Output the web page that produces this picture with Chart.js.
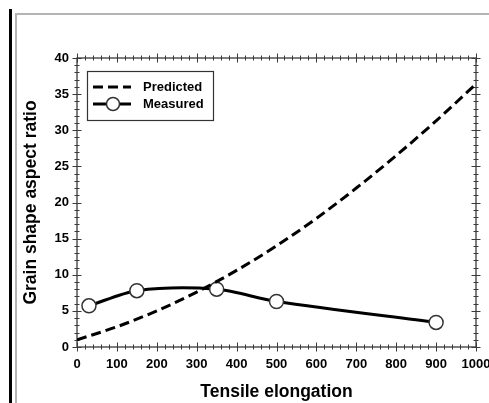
<!DOCTYPE html>
<html><head><meta charset="utf-8">
<script src="https://cdn.jsdelivr.net/npm/chart.js@4.4.0/dist/chart.umd.min.js"></script>
<style>html,body{margin:0;padding:0;background:#fff;}#wrap{width:489px;height:403px;position:relative}</style>
</head><body><div id="wrap"><canvas id="c" width="489" height="403"></canvas></div>
<script>
// ---- data ----
const predictedX = [0, 100, 200, 300, 400, 500, 600, 700, 800, 900, 1000];
const predictedY = [1.0, 2.8, 5.0, 7.6, 10.6, 14.0, 17.8, 22.0, 26.5, 31.3, 36.4];
const measuredX = [30, 150, 350, 500, 900];
const measuredY = [5.7, 7.8, 8.0, 6.3, 3.4];
const seriesLabels = ['Predicted', 'Measured'];
const xTitle = 'Tensile elongation';
const yTitle = 'Grain shape aspect ratio';
const xRange = [0, 1000], xMajor = 100, xMinor = 20;
const yRange = [0, 40], yMajor = 5, yMinor = 1;

const FONT = "'Liberation Sans', Arial, sans-serif";

const pageFrame = {
  id: 'pageFrame',
  beforeDraw(chart) {
    const ctx = chart.ctx;
    ctx.save();
    ctx.fillStyle = '#fff';
    ctx.fillRect(0, 0, chart.width, chart.height);
    ctx.fillStyle = '#000';
    ctx.fillRect(9, 9, 3, chart.height - 9);
    ctx.strokeStyle = '#b4b4b4';
    ctx.lineWidth = 2;
    ctx.beginPath();
    ctx.moveTo(16, chart.height);
    ctx.lineTo(16, 14);
    ctx.lineTo(chart.width, 14);
    ctx.stroke();
    ctx.restore();
  }
};

const frameTicks = {
  id: 'frameTicks',
  beforeDatasetsDraw(chart) {
    const {ctx, chartArea: a, scales: {x, y}} = chart;
    ctx.save();
    ctx.strokeStyle = '#3a3a3a';
    ctx.lineWidth = 1.3;
    ctx.strokeRect(a.left, a.top, a.right - a.left, a.bottom - a.top);
    ctx.lineWidth = 1;
    ctx.beginPath();
    for (let v = x.min; v <= x.max + 1e-9; v += xMinor) {
      const px = Math.round(x.getPixelForValue(v)) + 0.5;
      const L = (Math.abs(v % xMajor) < 1e-9) ? 4.5 : 2.5;
      ctx.moveTo(px, a.bottom - L); ctx.lineTo(px, a.bottom + L);
      ctx.moveTo(px, a.top - L); ctx.lineTo(px, a.top + L);
    }
    for (let v = y.min; v <= y.max + 1e-9; v += yMinor) {
      const py = Math.round(y.getPixelForValue(v)) + 0.5;
      const L = (Math.abs(v % yMajor) < 1e-9) ? 4.5 : 2.5;
      ctx.moveTo(a.left - L, py); ctx.lineTo(a.left + L, py);
      ctx.moveTo(a.right - L, py); ctx.lineTo(a.right + L, py);
    }
    ctx.stroke();
    ctx.restore();
  }
};

const boxLegend = {
  id: 'boxLegend',
  afterDraw(chart) {
    const {ctx, chartArea: a} = chart;
    const bx = a.left + 10, by = a.top + 13, bw = 126, bh = 49;
    ctx.save();
    ctx.fillStyle = '#fff';
    ctx.fillRect(bx, by, bw, bh);
    ctx.strokeStyle = '#333';
    ctx.lineWidth = 1.2;
    ctx.strokeRect(bx + 0.5, by + 0.5, bw, bh);
    chart.data.datasets.forEach((ds, i) => {
      const ly = by + 16 + i * 17;
      ctx.strokeStyle = ds.borderColor;
      ctx.lineWidth = ds.borderWidth;
      ctx.setLineDash(ds.borderDash || []);
      ctx.beginPath();
      ctx.moveTo(bx + 6, ly);
      ctx.lineTo(bx + 44, ly);
      ctx.stroke();
      ctx.setLineDash([]);
      if (ds.pointRadius > 0) {
        ctx.beginPath();
        ctx.arc(bx + 26, ly, 6.5, 0, Math.PI * 2);
        ctx.fillStyle = ds.pointBackgroundColor;
        ctx.fill();
        ctx.lineWidth = ds.pointBorderWidth;
        ctx.strokeStyle = ds.pointBorderColor;
        ctx.stroke();
      }
      ctx.fillStyle = '#000';
      ctx.font = 'bold 13px ' + FONT;
      ctx.textBaseline = 'middle';
      ctx.textAlign = 'left';
      ctx.fillText(ds.label, bx + 56, ly);
    });
    ctx.restore();
  }
};

new Chart(document.getElementById('c'), {
  type: 'line',
  data: {
    datasets: [
      {
        label: seriesLabels[0],
        data: predictedX.map((v, i) => ({x: v, y: predictedY[i]})),
        borderColor: '#000',
        borderWidth: 3,
        borderDash: [10, 5],
        pointRadius: 0,
        cubicInterpolationMode: 'monotone',
        fill: false
      },
      {
        label: seriesLabels[1],
        data: measuredX.map((v, i) => ({x: v, y: measuredY[i]})),
        borderColor: '#000',
        borderWidth: 3,
        pointRadius: 7,
        pointBackgroundColor: '#fff',
        pointBorderColor: '#333',
        pointBorderWidth: 1.5,
        tension: 0.3,
        fill: false
      }
    ]
  },
  options: {
    responsive: false,
    animation: false,
    devicePixelRatio: 1,
    layout: {padding: {top: 58, right: 13, left: 0, bottom: 0}},
    plugins: {legend: {display: false}, tooltip: {enabled: false}},
    scales: {
      x: {
        type: 'linear',
        min: xRange[0], max: xRange[1],
        grid: {display: false, drawTicks: false},
        border: {display: false},
        ticks: {stepSize: xMajor, color: '#000', padding: 10, maxRotation: 0,
                callback: v => String(v),
                font: {family: FONT, size: 13, weight: 'bold'}},
        title: {display: true, text: xTitle, color: '#000',
                font: {family: FONT, size: 17.5, weight: 'bold'},
                padding: {top: 0, bottom: 0.5}},
        afterFit(s) { s.height = 56; s.paddingRight = 0; s.paddingLeft = 0; }
      },
      y: {
        type: 'linear',
        min: yRange[0], max: yRange[1],
        grid: {display: false, drawTicks: false},
        border: {display: false},
        ticks: {stepSize: yMajor, color: '#000', padding: 8,
                font: {family: FONT, size: 13, weight: 'bold'}},
        title: {display: true, text: yTitle, color: '#000',
                font: {family: FONT, size: 17.5, weight: 'bold'},
                padding: {top: 20.5, bottom: 0}},
        afterFit(s) { s.width = 77; s.paddingTop = 0; s.paddingBottom = 0; }
      }
    }
  },
  plugins: [pageFrame, frameTicks, boxLegend]
});
</script>
</body></html>
